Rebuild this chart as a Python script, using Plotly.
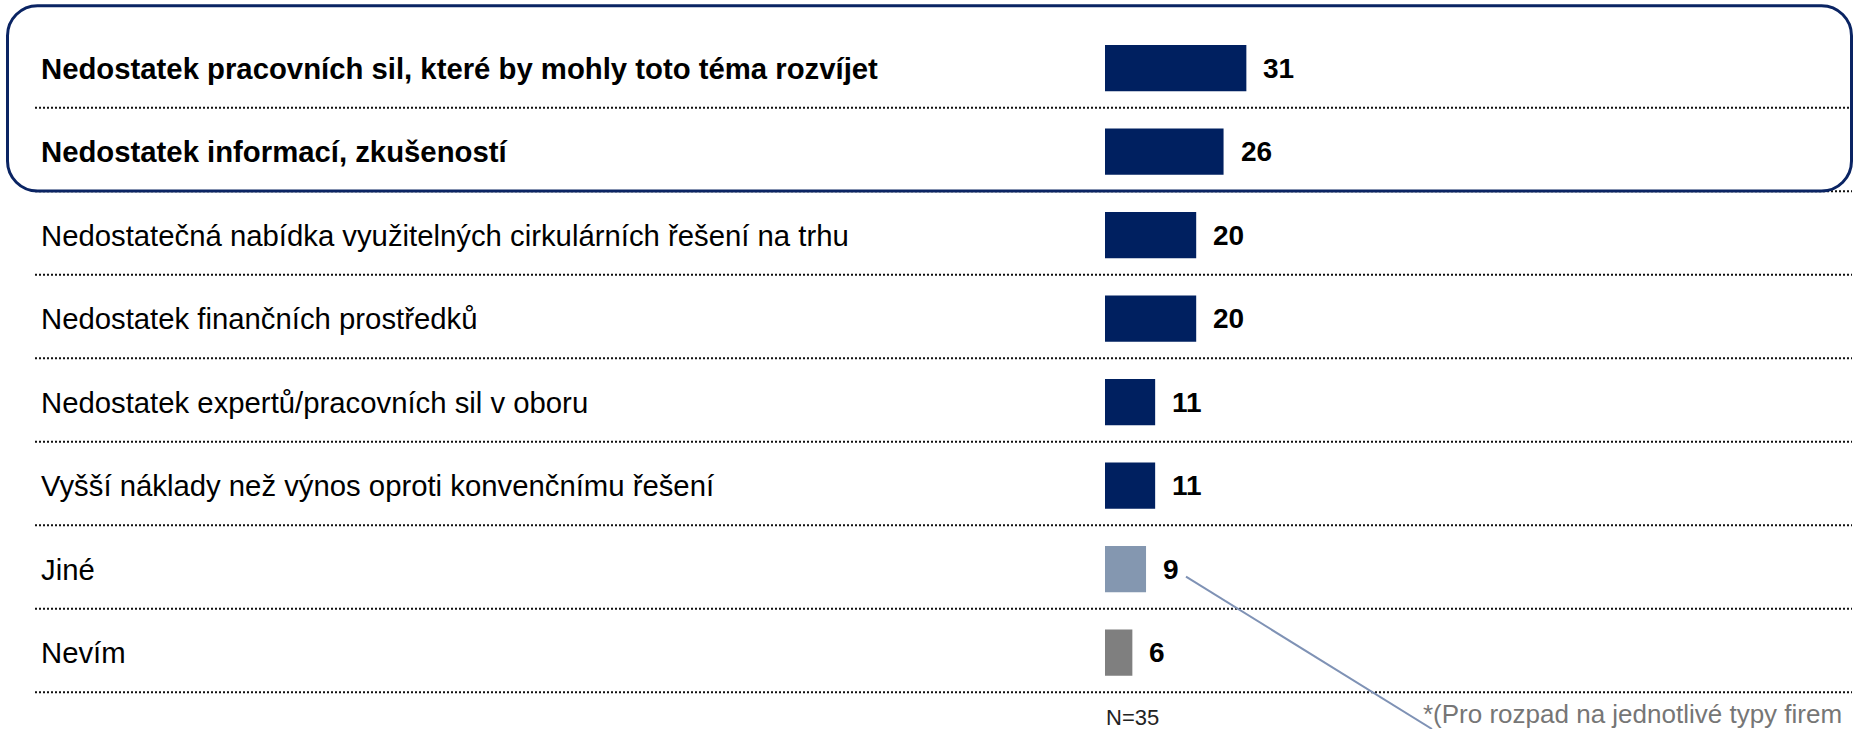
import plotly.graph_objects as go

# ---- data ----
categories = [
    "Nedostatek pracovních sil, které by mohly toto téma rozvíjet",
    "Nedostatek informací, zkušeností",
    "Nedostatečná nabídka využitelných cirkulárních řešení na trhu",
    "Nedostatek finančních prostředků",
    "Nedostatek expertů/pracovních sil v oboru",
    "Vyšší náklady než výnos oproti konvenčnímu řešení",
    "Jiné",
    "Nevím",
]
values = [31, 26, 20, 20, 11, 11, 9, 6]
highlighted = [True, True, False, False, False, False, False, False]
bar_colors = ["#002060", "#002060", "#002060", "#002060", "#002060", "#002060", "#8497B0", "#7F7F7F"]
sample_note = "N=35"
footnote = "*(Pro rozpad na jednotlivé typy firem"

# ---- layout geometry (pixels) ----
W, H = 1863, 729
X0_PX = 1105          # pixel where value 0 sits
PX_PER_UNIT = 4.56
ROW_PX = 83.5
ROW0_PX = 68.2        # centre of first row
FONT = "Liberation Sans, Arial, sans-serif"

x_range = [-X0_PX / PX_PER_UNIT, (W - X0_PX) / PX_PER_UNIT]
y_top = -ROW0_PX / ROW_PX
y_bottom = y_top + H / ROW_PX

def px(x):
    return x / W

def py(y):
    return 1 - y / H

fig = go.Figure()
fig.add_trace(go.Bar(
    x=values, y=categories, orientation="h",
    marker=dict(color=bar_colors, line=dict(width=0)),
    width=0.555, hoverinfo="skip",
))

shapes = []
# dotted separators
for i in range(len(categories)):
    shapes.append(dict(type="line", xref="paper", yref="y",
                       x0=px(35), x1=px(1852), y0=i + 0.475, y1=i + 0.475,
                       line=dict(color="#111111", width=2, dash="2px,2px"),
                       layer="below"))

# rounded highlight box
def rounded_rect(x0, y0, x1, y1, r):
    k = 0.5523 * r
    pts = [
        f"M {px(x0 + r)},{py(y0)}",
        f"L {px(x1 - r)},{py(y0)}",
        f"C {px(x1 - r + k)},{py(y0)} {px(x1)},{py(y0 + r - k)} {px(x1)},{py(y0 + r)}",
        f"L {px(x1)},{py(y1 - r)}",
        f"C {px(x1)},{py(y1 - r + k)} {px(x1 - r + k)},{py(y1)} {px(x1 - r)},{py(y1)}",
        f"L {px(x0 + r)},{py(y1)}",
        f"C {px(x0 + r - k)},{py(y1)} {px(x0)},{py(y1 - r + k)} {px(x0)},{py(y1 - r)}",
        f"L {px(x0)},{py(y0 + r)}",
        f"C {px(x0)},{py(y0 + r - k)} {px(x0 + r - k)},{py(y0)} {px(x0 + r)},{py(y0)}",
        "Z",
    ]
    return " ".join(pts)

shapes.append(dict(type="path", xref="paper", yref="paper",
                   path=rounded_rect(7.5, 5.7, 1851.5, 191, 30),
                   line=dict(color="#0A2463", width=3), fillcolor="rgba(0,0,0,0)"))

# connector line from "Jiné" value label
shapes.append(dict(type="line", xref="paper", yref="paper",
                   x0=px(1186), y0=py(576.7), x1=px(1432), y1=py(729),
                   line=dict(color="#7F92B5", width=2)))

annotations = []
for cat, val, hl in zip(categories, values, highlighted):
    annotations.append(dict(
        x=px(39), xref="paper", y=cat, yref="y", xanchor="left", yanchor="middle",
        text=f"<b>{cat}</b>" if hl else cat, showarrow=False,
        font=dict(family=FONT, size=29.3, color="#000000")))
    annotations.append(dict(
        x=val, xref="x", y=cat, yref="y", xanchor="left", yanchor="middle",
        xshift=15, text=f"<b>{val}</b>", showarrow=False,
        font=dict(family=FONT, size=28, color="#000000")))

annotations.append(dict(x=px(1104), xref="paper", y=py(717), yref="paper",
                        xanchor="left", yanchor="middle", text=sample_note, showarrow=False,
                        font=dict(family=FONT, size=22, color="#222222")))
annotations.append(dict(x=px(1421), xref="paper", y=py(714), yref="paper",
                        xanchor="left", yanchor="middle", text=footnote, showarrow=False,
                        font=dict(family=FONT, size=26, color="#767676")))

fig.update_layout(
    width=W, height=H,
    margin=dict(l=0, r=0, t=0, b=0, pad=0),
    paper_bgcolor="white", plot_bgcolor="white",
    showlegend=False,
    xaxis=dict(range=x_range, visible=False, fixedrange=True),
    yaxis=dict(type="category", categoryorder="array", categoryarray=categories,
               range=[y_bottom, y_top], visible=False, fixedrange=True),
    shapes=shapes, annotations=annotations,
    hovermode=False,
)

fig.write_html("out.html", config={"displayModeBar": False},
               post_script="document.body.style.margin='0';document.body.style.overflow='hidden';")
